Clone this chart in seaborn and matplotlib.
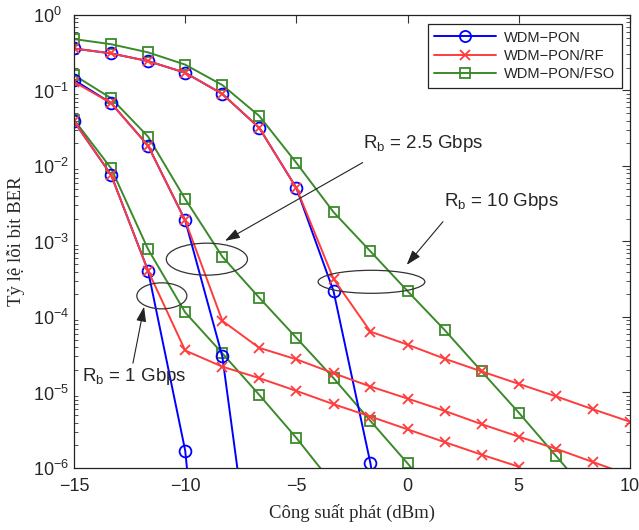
import numpy as np
import pandas as pd
import matplotlib
matplotlib.use("Agg")
import matplotlib.pyplot as plt
from matplotlib.patches import Ellipse
from matplotlib.lines import Line2D
from matplotlib.ticker import FixedLocator, NullFormatter
import seaborn as sns

# Transmit power grid (dBm)
power_dbm = [-15, -13.33, -11.67, -10, -8.33, -6.67, -5, -3.33,
             -1.67, 0, 1.67, 3.33, 5, 6.67, 8.33, 10]

# BER curves per system and bit rate
pon_1g = [3.9e-2, 7.6e-3, 4.1e-4, 1.7e-6, 2e-11]
pon_2g5 = [1.38e-1, 6.8e-2, 1.86e-2, 1.9e-3, 3.0e-5, 7e-9]
pon_10g = [3.6e-1, 3.1e-1, 2.45e-1, 1.72e-1, 9.0e-2, 3.2e-2, 5.1e-3,
           2.2e-4, 1.15e-6, 1e-9]

rf_1g = [3.9e-2, 7.6e-3, 4.1e-4, 3.6e-5, 2.2e-5, 1.55e-5, 1.05e-5,
         7.0e-6, 4.8e-6, 3.25e-6, 2.2e-6, 1.5e-6, 1.04e-6]
rf_2g5 = [1.3e-1, 6.8e-2, 1.86e-2, 1.9e-3, 8.9e-5, 3.9e-5, 2.75e-5,
          1.8e-5, 1.2e-5, 8.3e-6, 5.7e-6, 3.8e-6, 2.6e-6, 1.8e-6,
          1.2e-6, 8e-7]
rf_10g = [3.6e-1, 3.1e-1, 2.45e-1, 1.72e-1, 9.0e-2, 3.2e-2, 5.1e-3,
          3.2e-4, 6.4e-5, 4.3e-5, 2.8e-5, 1.9e-5, 1.3e-5, 8.9e-6,
          6.0e-6, 4.1e-6]

fso_1g = [4.1e-2, 9.3e-3, 7.9e-4, 1.15e-4, 3.3e-5, 9.3e-6, 2.5e-6, 6e-7]
fso_2g5 = [1.6e-1, 7.9e-2, 2.45e-2, 3.65e-3, 6.3e-4, 1.8e-4, 5.3e-5,
           1.55e-5, 4.2e-6, 1.15e-6, 3e-7]
fso_10g = [4.8e-1, 4.1e-1, 3.2e-1, 2.2e-1, 1.18e-1, 4.6e-2, 1.1e-2,
           2.45e-3, 7.4e-4, 2.2e-4, 6.7e-5, 1.9e-5, 5.4e-6, 1.45e-6,
           3.9e-7]

systems = ["WDM\u2212PON", "WDM\u2212PON/RF", "WDM\u2212PON/FSO"]
rates = ["1 Gbps", "2.5 Gbps", "10 Gbps"]
curves = {
    systems[0]: [pon_1g, pon_2g5, pon_10g],
    systems[1]: [rf_1g, rf_2g5, rf_10g],
    systems[2]: [fso_1g, fso_2g5, fso_10g],
}
x_ticks = [-15, -10, -5, 0, 5, 10]
y_exponents = [-6, -5, -4, -3, -2, -1, 0]

rows = []
for sysname, series in curves.items():
    for rate, vals in zip(rates, series):
        for p, b in zip(power_dbm, vals):
            rows.append({"system": sysname, "rate": rate, "power": p, "ber": b})
df = pd.DataFrame(rows)

sns.set_style("white")
plt.rcParams["font.family"] = ["Liberation Sans", "DejaVu Sans"]
plt.rcParams["mathtext.default"] = "regular"
plt.rcParams["axes.unicode_minus"] = True

colors = {systems[0]: "#0000ff", systems[1]: "#ff3c3c", systems[2]: "#3a8a2a"}
markers = {systems[0]: "o", systems[1]: "x", systems[2]: "s"}
msizes = {systems[0]: 8.5, systems[1]: 7.5, systems[2]: 7.5}

fig = plt.figure(figsize=(6.39, 5.30), dpi=100)
ax = fig.add_axes([0.1158, 0.117, 0.8701, 0.8547])

# Draw order: FSO underneath, then PON, RF on top
for sysname in [systems[2], systems[0], systems[1]]:
    for rate in rates:
        sub = df[(df["system"] == sysname) & (df["rate"] == rate)]
        sns.lineplot(data=sub, x="power", y="ber", ax=ax, estimator=None,
                     sort=False, color=colors[sysname], marker=markers[sysname],
                     markersize=msizes[sysname], markerfacecolor="none",
                     markeredgecolor=colors[sysname], markeredgewidth=1.3,
                     linewidth=1.4, legend=False)

ax.set_yscale("log")
ax.set_xlim(-15, 10)
ax.set_ylim(1e-6, 1)
ax.set_xticks(x_ticks, labels=[f"{v}".replace("-", "\u2212") for v in x_ticks])
ax.set_yticks([10.0 ** e for e in y_exponents],
              labels=[f"$10^{{{e}}}$" for e in y_exponents])
minor_y = [m * 10.0 ** e for e in y_exponents[:-1] for m in range(2, 10)]
ax.yaxis.set_minor_locator(FixedLocator(minor_y))
ax.yaxis.set_minor_formatter(NullFormatter())
ax.tick_params(axis="both", which="major", direction="in", top=True, right=True,
               length=6, width=0.8, labelsize=13, color="#333333")
ax.tick_params(axis="x", which="major", pad=7)
# y labels share a common left edge
ax.tick_params(axis="y", which="major", pad=29.5)
ax.tick_params(axis="y", which="minor", direction="in", left=True, right=True,
               length=3, width=0.6, color="#333333", labelleft=False)
for lbl in ax.get_yticklabels():
    lbl.set_horizontalalignment("left")
for s in ax.spines.values():
    s.set_color("#222222")
    s.set_linewidth(0.9)

ax.set_xlabel("Công suất phát (dBm)", family=["Liberation Serif", "DejaVu Serif"],
              fontsize=13.5, labelpad=7)
ax.set_ylabel("Tỷ lệ lỗi bit BER", family=["Liberation Serif", "DejaVu Serif"],
              fontsize=13.5, labelpad=6)

handles = [Line2D([], [], color=colors[s], marker=markers[s], markersize=msizes[s] - 0.5,
                  markerfacecolor="none", markeredgewidth=1.3, linewidth=1.4)
           for s in systems]
leg = ax.legend(handles, systems, loc="upper right",
                bbox_to_anchor=(1 - 8 / 556, 1 - 9 / 453), borderaxespad=0,
                fancybox=False, framealpha=1, edgecolor="#222222",
                fontsize=10.5, handlelength=4.2, borderpad=0.45,
                labelspacing=0.3, handletextpad=0.6)
leg.get_frame().set_linewidth(0.9)

# Grouping ellipses (axes fraction)
for (cx, cy, w, h) in [(0.239, 0.461, 0.146, 0.0706),
                       (0.158, 0.380, 0.090, 0.0574),
                       (0.535, 0.411, 0.192, 0.0508)]:
    ax.add_patch(Ellipse((cx, cy), w, h, transform=ax.transAxes,
                         fill=False, edgecolor="#333333", linewidth=0.9, zorder=5))

arrow = dict(arrowstyle="-|>,head_length=0.9,head_width=0.3", color="#222222",
             linewidth=0.8, shrinkA=0, shrinkB=0)
ax.annotate("", xy=(-8.21, 1.02e-3), xytext=(-2.02, 1.11e-2), arrowprops=arrow)
ax.annotate("", xy=(-0.04, 4.9e-4), xytext=(1.59, 1.83e-3), arrowprops=arrow)
ax.annotate("", xy=(-11.85, 1.37e-4), xytext=(-12.35, 2.44e-5), arrowprops=arrow)

ax.text(-2.02, 1.96e-2, "R$_b$ = 2.5 Gbps", fontsize=13.5, ha="left", va="center")
ax.text(1.64, 3.37e-3, "R$_b$ = 10 Gbps", fontsize=13.5, ha="left", va="center")
ax.text(-14.65, 1.62e-5, "R$_b$ = 1 Gbps", fontsize=13.5, ha="left", va="center")

fig.savefig("out.png", dpi=100)
